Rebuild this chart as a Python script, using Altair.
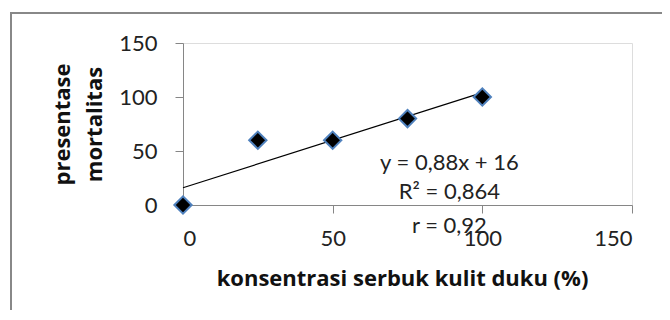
import altair as alt
import pandas as pd

# data
konsentrasi = [0, 25, 50, 75, 100]
mortalitas = [0, 60, 60, 80, 100]

x_ticks = [0, 50, 100, 150]
y_ticks = [0, 50, 100, 150]

ann_text = ["y = 0,88x + 16", "R\u00b2 = 0,864", "r = 0,92"]
ann_x = [89, 89, 89]
ann_y = [39, 12, -19.5]

df = pd.DataFrame({"x": konsentrasi, "y": mortalitas})
ann = pd.DataFrame({"t": ann_text, "x": ann_x, "y": ann_y})

FONT = "Lato"
TFONT = "Open Sans"
AXIS_GRAY = "#868686"

xs = alt.Scale(domain=[0, 150], nice=False)
ys = alt.Scale(domain=[0, 150], nice=False)

x_axis = alt.Axis(
    values=x_ticks, grid=False, domainColor=AXIS_GRAY, tickColor=AXIS_GRAY,
    tickSize=8, labelFontSize=22, labelFont=FONT, labelColor="#222",
    labelPadding=15, title="konsentrasi serbuk kulit duku (%)",
    titleFont=TFONT, titleFontSize=22, titleFontWeight="bold", titleColor="#111",
    titlePadding=19, titleX=219,
)
y_axis = alt.Axis(
    values=y_ticks, grid=False, domainColor=AXIS_GRAY, tickColor=AXIS_GRAY,
    tickSize=8, labelFontSize=22, labelFont=FONT, labelColor="#222",
    labelPadding=18, title=["presentase", "mortalitas"],
    titleFont=TFONT, titleFontSize=22, titleFontWeight="bold", titleColor="#111",
    titlePadding=12, titleLineHeight=32,
)

base = alt.Chart(df)

border = alt.Chart(alt.Data(values=[{}])).mark_rect(
    fill=None, stroke="#888888", strokeWidth=2
).encode(
    x=alt.value(-172), y=alt.value(-30), x2=alt.value(700), y2=alt.value(400)
)

trend = base.transform_regression("x", "y").mark_line(
    color="black", strokeWidth=1.2
).encode(
    x=alt.X("x:Q", scale=xs, axis=x_axis),
    y=alt.Y("y:Q", scale=ys, axis=y_axis),
)

points = base.mark_point(
    shape="diamond", filled=True, fill="black", stroke="#4F81BD",
    strokeWidth=2, size=300, opacity=1,
).encode(
    x=alt.X("x:Q", scale=xs),
    y=alt.Y("y:Q", scale=ys),
)

labels = alt.Chart(ann).mark_text(
    font=FONT, fontSize=22, color="#222", align="center", baseline="middle"
).encode(
    x=alt.X("x:Q", scale=xs),
    y=alt.Y("y:Q", scale=ys),
    text="t:N",
)

chart = alt.layer(border, trend, points, labels).properties(
    width=449, height=162,
    autosize=alt.AutoSizeParams(type="none"),
    padding={"left": 175, "top": 35, "right": 30, "bottom": 105},
).configure_view(stroke=None).configure(background="white")

chart.save("out.html", embed_options={"renderer": "svg", "actions": False})
